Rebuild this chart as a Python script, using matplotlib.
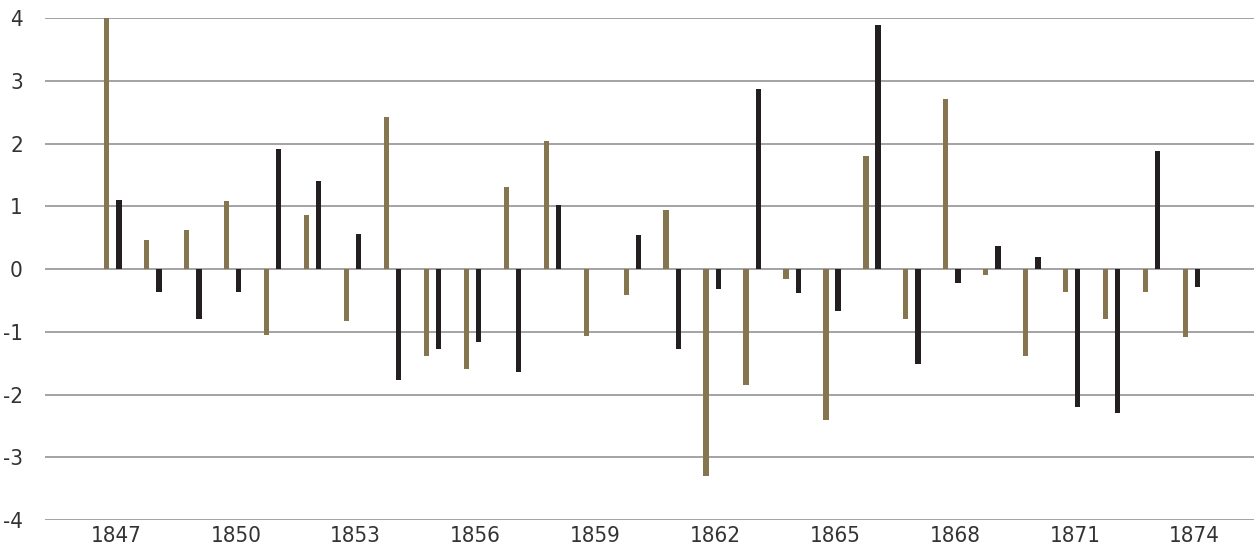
import matplotlib
matplotlib.use("Agg")
import matplotlib.pyplot as plt
import numpy as np

years = list(range(1847, 1875))
tan_values = [4.02, 0.47, 0.63, 1.08, -1.05, 0.86, -0.83, 2.42, -1.38, -1.60,
              1.31, 2.05, -1.06, -0.42, 0.94, -3.30, -1.85, -0.15, -2.40, 1.81,
              -0.80, 2.71, -0.09, -1.39, -0.37, -0.79, -0.37, -1.08]
black_values = [1.11, -0.36, -0.80, -0.36, 1.92, 1.41, 0.56, -1.76, -1.27, -1.16,
                -1.64, 1.03, 0.0, 0.55, -1.28, -0.32, 2.87, -0.38, -0.67, 3.90,
                -1.51, -0.22, 0.37, 0.19, -2.20, -2.29, 1.89, -0.29]
yticks = [-4, -3, -2, -1, 0, 1, 2, 3, 4]
xtick_years = list(range(1847, 1875, 3))

tan = "#857650"
dark = "#231F20"
grid = "#A3A3A3"
text = "#333333"

fig = plt.figure(figsize=(12.54, 5.48), dpi=100)
ax = fig.add_axes([45 / 1254, 28 / 548, 1 - 45 / 1254, 501.7 / 548])

x = np.arange(len(years))
w = 0.133
ax.bar(x - 0.18, tan_values, width=w, color=tan, zorder=3)
ax.bar(x + 0.125, black_values, width=w, color=dark, zorder=3)

for v in yticks:
    ax.axhline(v, color=grid, lw=1.4, zorder=1)

ax.set_ylim(-4, 4)
ax.set_xlim(-1.727, 28.535)
ax.set_yticks(yticks)
ax.set_yticklabels([str(v) for v in yticks], family="DejaVu Sans",
                   stretch="condensed", fontsize=16, color=text)
ax.set_xticks([years.index(y) + 0.05 for y in xtick_years])
ax.set_xticklabels([str(y) for y in xtick_years], family="DejaVu Sans",
                   stretch="condensed", fontsize=16, color=text)
ax.tick_params(axis="y", length=0, pad=16)
ax.tick_params(axis="x", length=0, pad=4)
for s in ax.spines.values():
    s.set_visible(False)

fig.savefig("out.png", dpi=100)
